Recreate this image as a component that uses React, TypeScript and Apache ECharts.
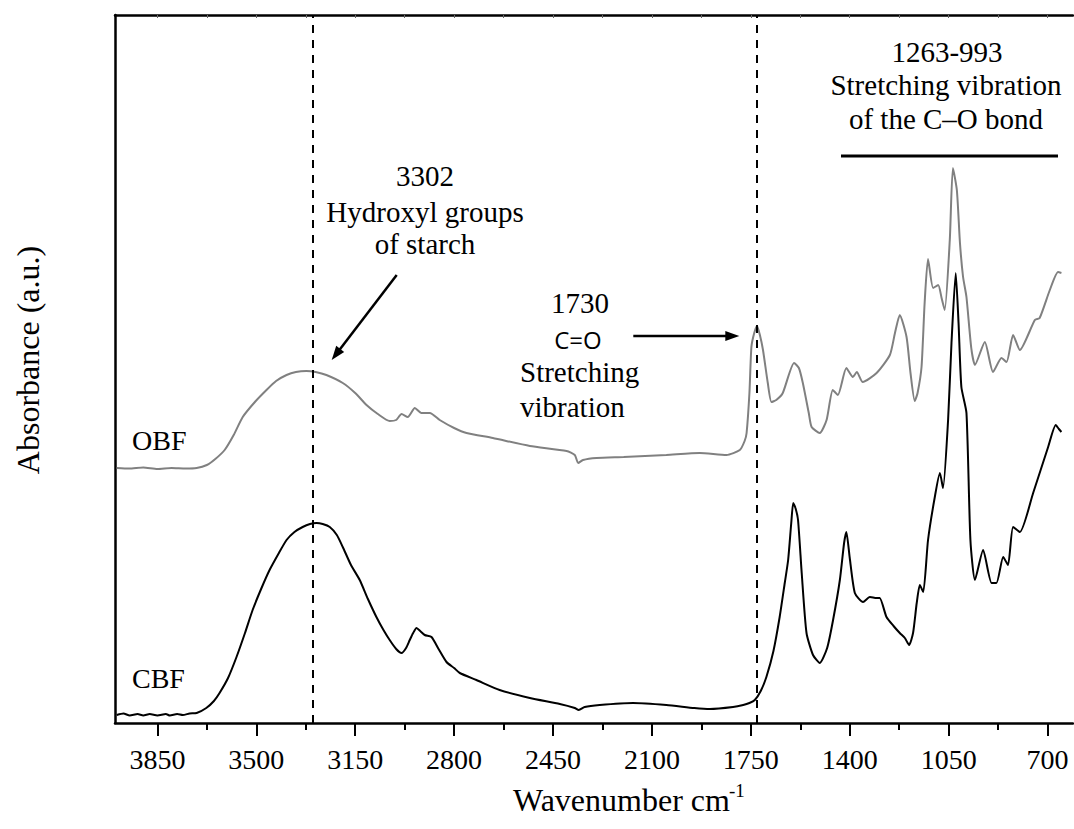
import React, { useEffect, useRef } from "react";
import * as echarts from "echarts";

// ---- Data (wavenumber cm-1, absorbance a.u.) ----
const OBF_WN = [3994, 3950, 3900, 3850, 3800, 3750, 3711, 3675, 3645, 3612, 3580, 3548, 3505, 3464, 3430, 3393, 3360, 3323, 3290, 3252, 3194, 3150, 3110, 3070, 3028, 3005, 2986, 2964, 2939, 2916, 2886, 2851, 2800, 2756, 2663, 2532, 2402, 2373, 2361, 2344, 2296, 2200, 2049, 1931, 1836, 1789, 1772, 1765, 1755, 1748, 1738, 1728, 1718, 1707, 1690, 1677, 1660, 1637, 1597, 1580, 1566, 1545, 1535, 1506, 1482, 1460, 1442, 1412, 1389, 1375, 1354, 1305, 1258, 1240, 1223, 1199, 1185, 1170, 1160, 1146, 1135, 1123, 1105, 1087, 1075, 1064, 1046, 1035, 1021, 1010, 999, 987, 970, 957, 922, 893, 863, 845, 822, 798, 745, 728, 692, 663, 651];
const OBF_ABS = [2.55, 2.545, 2.555, 2.54, 2.55, 2.545, 2.55, 2.58, 2.64, 2.73, 2.88, 3.06, 3.21, 3.33, 3.42, 3.48, 3.51, 3.52, 3.51, 3.48, 3.40, 3.30, 3.18, 3.09, 3.02, 3.03, 3.09, 3.06, 3.15, 3.10, 3.10, 3.03, 2.95, 2.90, 2.85, 2.77, 2.72, 2.68, 2.60, 2.63, 2.65, 2.66, 2.68, 2.70, 2.68, 2.73, 2.82, 2.90, 3.30, 3.76, 3.90, 3.97, 3.88, 3.73, 3.40, 3.21, 3.23, 3.30, 3.60, 3.55, 3.40, 3.10, 2.96, 2.90, 3.03, 3.33, 3.28, 3.55, 3.46, 3.51, 3.41, 3.50, 3.68, 3.90, 4.08, 3.86, 3.50, 3.22, 3.30, 3.56, 4.20, 4.64, 4.35, 4.38, 4.25, 4.13, 4.83, 5.55, 5.33, 4.80, 4.46, 4.26, 3.75, 3.58, 3.81, 3.51, 3.65, 3.61, 3.88, 3.73, 4.03, 4.05, 4.33, 4.51, 4.50];

const CBF_WN = [3994, 3970, 3948, 3920, 3900, 3877, 3850, 3820, 3806, 3780, 3760, 3736, 3711, 3677, 3650, 3630, 3600, 3570, 3540, 3513, 3483, 3453, 3420, 3393, 3365, 3336, 3310, 3287, 3265, 3240, 3215, 3194, 3165, 3134, 3105, 3075, 3050, 3028, 3005, 2986, 2970, 2957, 2945, 2933, 2920, 2904, 2880, 2855, 2827, 2800, 2780, 2721, 2639, 2532, 2426, 2373, 2359, 2338, 2285, 2167, 2049, 1950, 1895, 1813, 1777, 1755, 1736, 1715, 1695, 1670, 1648, 1630, 1618, 1607, 1600, 1592, 1583, 1570, 1553, 1530, 1506, 1480, 1459, 1435, 1420, 1412, 1400, 1382, 1353, 1329, 1305, 1294, 1270, 1245, 1223, 1205, 1190, 1176, 1163, 1152, 1140, 1123, 1099, 1081, 1070, 1052, 1040, 1025, 1015, 1005, 987, 973, 957, 928, 898, 881, 857, 840, 822, 798, 751, 698, 671, 660, 651];
const CBF_ABS = [0.08, 0.095, 0.075, 0.09, 0.075, 0.09, 0.075, 0.09, 0.075, 0.09, 0.08, 0.095, 0.10, 0.15, 0.22, 0.30, 0.45, 0.66, 0.90, 1.13, 1.34, 1.53, 1.70, 1.83, 1.91, 1.96, 1.99, 2.00, 1.99, 1.96, 1.88, 1.76, 1.58, 1.43, 1.24, 1.06, 0.93, 0.83, 0.74, 0.70, 0.75, 0.83, 0.90, 0.95, 0.92, 0.88, 0.86, 0.74, 0.61, 0.55, 0.50, 0.43, 0.33, 0.25, 0.19, 0.15, 0.13, 0.16, 0.18, 0.20, 0.18, 0.15, 0.14, 0.16, 0.18, 0.20, 0.23, 0.32, 0.46, 0.72, 1.06, 1.40, 1.63, 2.00, 2.20, 2.15, 2.03, 1.50, 0.90, 0.68, 0.60, 0.75, 1.03, 1.43, 1.80, 1.91, 1.65, 1.30, 1.21, 1.26, 1.25, 1.25, 1.06, 0.97, 0.90, 0.85, 0.78, 0.90, 1.20, 1.38, 1.31, 1.83, 2.26, 2.50, 2.35, 3.03, 3.80, 4.50, 4.00, 3.36, 3.10, 1.83, 1.43, 1.73, 1.40, 1.40, 1.66, 1.58, 1.96, 1.91, 2.30, 2.76, 2.98, 2.94, 2.91];

const MAJOR_TICKS = [700, 1050, 1400, 1750, 2100, 2450, 2800, 3150, 3500, 3850];
const MINOR_TICKS = [875, 1225, 1575, 1925, 2275, 2625, 2975, 3325, 3675];
const TOP_TICKS = [700, 875, 1050, 1225, 1400, 1575, 1750, 1925, 2100, 2275, 2450, 2625, 2800, 2975, 3150, 3325, 3500, 3675, 3850];
const MARKED_PEAKS = [3302, 1730];

const X_MIN = 610;
const X_MAX = 4000;
const Y_MIN = 0;
const Y_MAX = 7.08;

const SERIF = "'Liberation Serif', 'Times New Roman', serif";

function zip(xs: number[], ys: number[]) {
  return xs.map((x, i) => [x, ys[i]]);
}

function arrow(x1: number, y1: number, x2: number, y2: number, head = 14, half = 5) {
  const dx = x2 - x1;
  const dy = y2 - y1;
  const len = Math.sqrt(dx * dx + dy * dy);
  const ux = dx / len;
  const uy = dy / len;
  const bx = x2 - ux * head;
  const by = y2 - uy * head;
  const px = -uy * half;
  const py = ux * half;
  return [
    {
      type: "line",
      shape: { x1, y1, x2: bx + ux * 2, y2: by + uy * 2 },
      style: { stroke: "#000", lineWidth: 2.5 },
      silent: true,
    },
    {
      type: "polygon",
      shape: { points: [[x2, y2], [bx + px, by + py], [bx - px, by - py]] },
      style: { fill: "#000" },
      silent: true,
    },
  ];
}

function txt(text: string, x: number, y: number, size: number, align = "center", family = SERIF, rotation = 0) {
  return {
    type: "text",
    x,
    y,
    rotation,
    silent: true,
    style: {
      text,
      fontSize: size,
      fontFamily: family,
      fill: "#000",
      align,
      verticalAlign: "middle",
    },
  };
}

export default function App() {
  const ref = useRef<HTMLDivElement>(null);

  useEffect(() => {
    if (!ref.current) return;
    const chart = echarts.init(ref.current, null, { renderer: "svg" });

    const baseAxis = {
      type: "value",
      min: X_MIN,
      max: X_MAX,
      inverse: true,
      splitLine: { show: false },
    };

    chart.setOption({
      animation: false,
      backgroundColor: "#fff",
      grid: { left: 115, right: 1, top: 15, bottom: 106, containLabel: false, outerBoundsMode: "none" },
      xAxis: [
        {
          ...baseAxis,
          position: "bottom",
          axisLine: { show: true, onZero: false, lineStyle: { color: "#000", width: 2.5 } },
          axisTick: { show: true, inside: false, length: 13, customValues: MAJOR_TICKS, lineStyle: { color: "#000", width: 2 } },
          axisLabel: {
            show: true,
            customValues: MAJOR_TICKS,
            formatter: (v: number) => String(Math.round(v)),
            margin: 22,
            fontSize: 28,
            fontFamily: SERIF,
            color: "#000",
          },
        },
        {
          ...baseAxis,
          position: "top",
          axisLine: { show: true, onZero: false, lineStyle: { color: "#000", width: 2.5 } },
          axisTick: { show: true, inside: true, length: 3, customValues: TOP_TICKS, lineStyle: { color: "#666", width: 1 } },
          axisLabel: { show: false },
        },
        {
          ...baseAxis,
          position: "bottom",
          axisLine: { show: false, onZero: false },
          axisTick: { show: true, inside: false, length: 7, customValues: MINOR_TICKS, lineStyle: { color: "#000", width: 2 } },
          axisLabel: { show: false },
        },
      ],
      yAxis: {
        type: "value",
        min: Y_MIN,
        max: Y_MAX,
        axisLine: { show: true, onZero: false, lineStyle: { color: "#000", width: 2.5 } },
        axisTick: { show: false },
        axisLabel: { show: false },
        splitLine: { show: false },
      },
      series: [
        {
          name: "OBF",
          type: "line",
          xAxisIndex: 0,
          data: zip(OBF_WN, OBF_ABS),
          showSymbol: false,
          symbol: "none",
          smooth: 0.2,
          lineStyle: { color: "#808080", width: 2 },
          silent: true,
        },
        {
          name: "CBF",
          type: "line",
          xAxisIndex: 0,
          data: zip(CBF_WN, CBF_ABS),
          showSymbol: false,
          symbol: "none",
          smooth: 0.2,
          lineStyle: { color: "#000", width: 2 },
          silent: true,
          markLine: {
            silent: true,
            symbol: "none",
            label: { show: false },
            lineStyle: { color: "#000", width: 2, type: [8, 7] },
            data: MARKED_PEAKS.map((v) => ({ xAxis: v })),
          },
        },
      ],
      graphic: [
        // top-right annotation
        txt("1263-993", 947, 52, 29),
        txt("Stretching vibration", 946, 84.5, 29),
        txt("of the C\u2013O bond", 946, 119, 29),
        {
          type: "line",
          shape: { x1: 841, y1: 156, x2: 1058, y2: 156 },
          style: { stroke: "#000", lineWidth: 3 },
          silent: true,
        },
        // 3302 annotation
        txt("3302", 425, 175.5, 29),
        txt("Hydroxyl groups", 425, 212, 29),
        txt("of starch", 425, 244, 29),
        ...arrow(396.7, 275, 331.7, 360),
        // 1730 annotation
        txt("1730", 580, 303, 29),
        txt("C=O", 578, 339, 24, "center", "'Open Sans', 'Noto Sans', sans-serif"),
        txt("Stretching", 520, 372, 29, "left"),
        txt("vibration", 520, 407, 29, "left"),
        ...arrow(633.3, 336, 739.3, 336),
        // series labels
        txt("OBF", 132, 440, 28, "left"),
        txt("CBF", 132, 678.5, 28, "left"),
        // axis titles
        txt("Wavenumber cm", 513, 799.5, 32, "left"),
        txt("-1", 729, 790, 19, "left"),
        txt("Absorbance (a.u.)", 28, 360, 32, "center", SERIF, Math.PI / 2),
      ],
    });

    return () => chart.dispose();
  }, []);

  return (
    <div
      ref={ref}
      style={{ position: "fixed", left: 0, top: 0, width: 1074, height: 829, background: "#fff" }}
    />
  );
}
